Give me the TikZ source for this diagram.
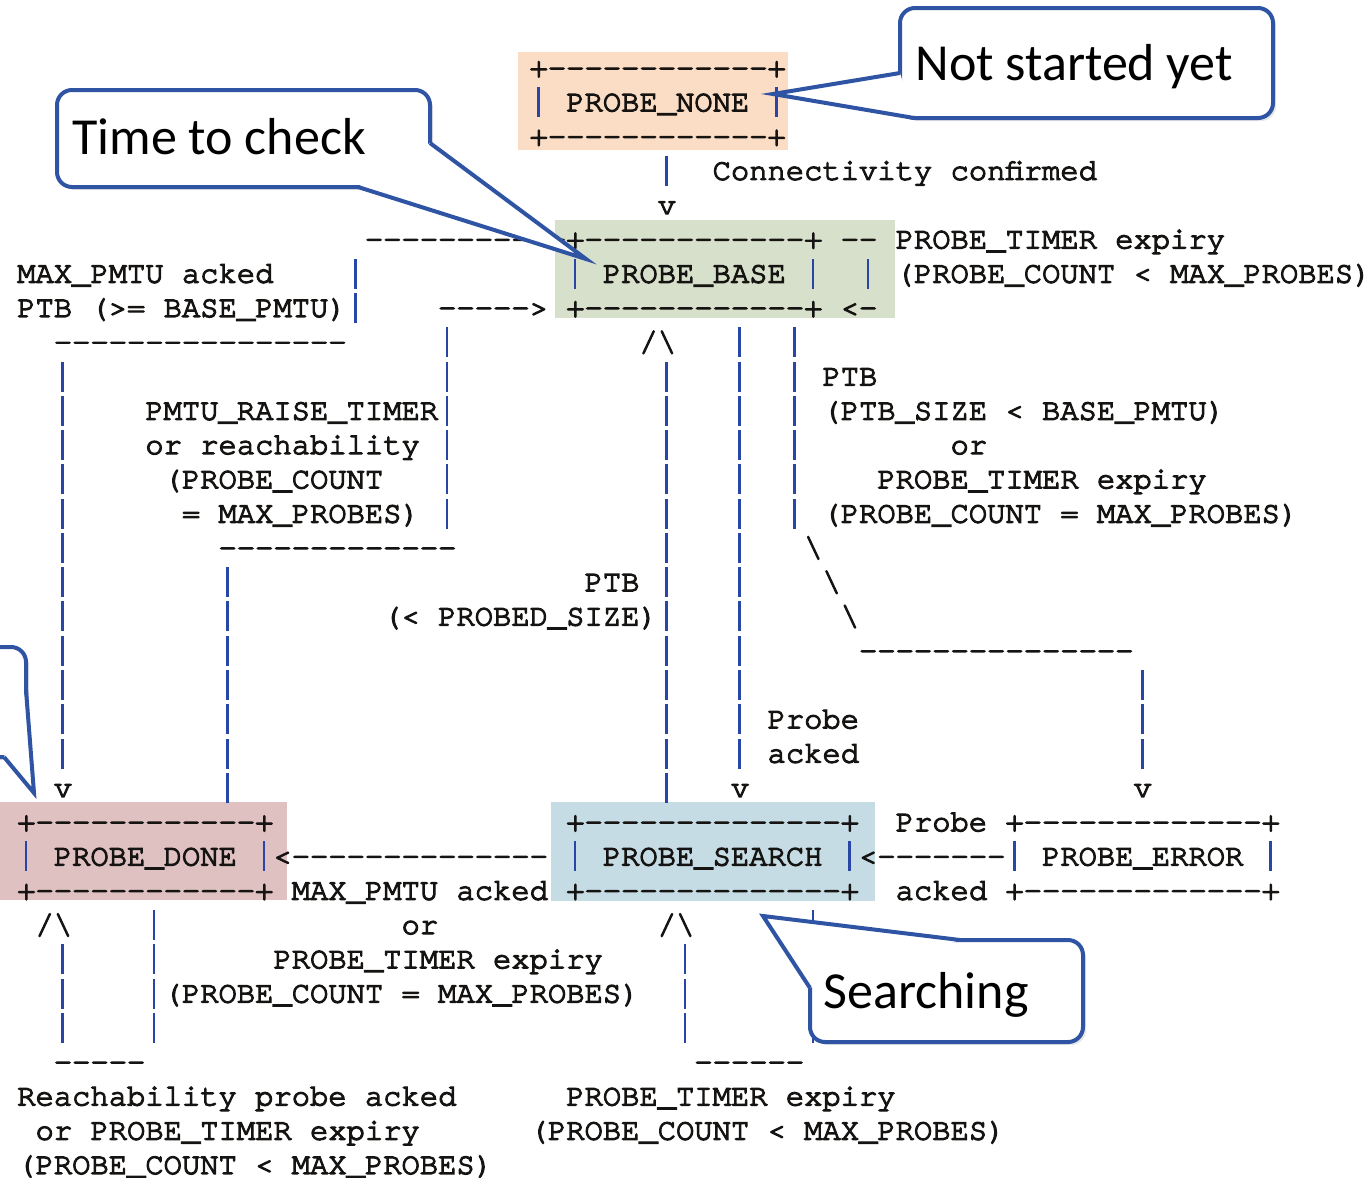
\documentclass[tikz,border=0pt]{standalone}
\usepackage{fontspec}
\usepackage{tikz}
\usetikzlibrary{shadows}

\newfontfamily\asciifont{texgyrecursor-regular.otf}[FakeBold=4]
\newfontfamily\notefont{Carlito}

\definecolor{nonebg}{RGB}{251,221,197}
\definecolor{basebg}{RGB}{215,224,202}
\definecolor{donebg}{RGB}{223,193,193}
\definecolor{searchbg}{RGB}{198,220,228}
\definecolor{pipeblue}{RGB}{40,70,165}
\definecolor{noteblue}{RGB}{47,84,163}
\definecolor{ink}{RGB}{22,20,18}

% one text piece of the ascii chart, left edge at column #2, line #3
\newcommand\asc[4]{\node[asc] (#1) at ({16.85+18.3*#2},{77+34.28*#3}) {#4};}
\newcommand\barat[3]{\node[pipe] (#1) at ({26+18.3*#2},{68+34.28*#3}) {};}

\begin{document}
\begin{tikzpicture}[x=0.5pt, y=-0.5pt,
	asc/.style={anchor=base west, inner sep=0pt, font=\asciifont\fontsize{15.25}{17}\selectfont, text=ink},
	pipe/.style={fill=pipeblue, inner sep=0pt, minimum width=1.3pt, minimum height=15pt},
	callout/.style={draw=noteblue, line width=2pt, fill=white, rounded corners=7.5pt,
		drop shadow={opacity=0.2, shadow xshift=1.5pt, shadow yshift=-1.5pt}},
	wedge/.style={draw=noteblue, line width=2pt, line join=miter},
	note/.style={anchor=base west, inner sep=0pt, font=\notefont\fontsize{26}{30}\selectfont}]
	
	\useasboundingbox (0,0) rectangle (1371,1178);
	\clip (0,0) rectangle (1371,1178);
	
	% coloured states
	\fill[nonebg] (518,52) rectangle (788,150);
	\fill[basebg] (555,220) rectangle (895,318);
	\fill[donebg] (0,802) rectangle (287,900);
	\fill[searchbg] (551,802) rectangle (875,901);
	
	% vertical runs: column/first line/last line
	\foreach \c/\a/\b in {35/3/3, 18/6/7, 46/6/6, 23/8/13, 39/8/20, 42/8/13,
		2/9/20, 35/9/21, 11/15/21, 61/18/20, 7/25/28, 43/25/28, 2/26/28, 36/26/28}
	{
		\foreach \r in {\a,...,\b}
		{\barat{pipe-\c-\r}{\c}{\r}}
	}
	
	\asc{none-top}{28}{0}{+------------+}
	\barat{none-w}{28}{1} \asc{none}{30}{1}{PROBE\_NONE} \barat{none-e}{41}{1}
	\asc{none-bot}{28}{2}{+------------+}
	\asc{conn}{38}{3}{Connectivity confirmed}
	\asc{conn-v}{35}{4}{v}
	
	\asc{base-in}{19}{5}{-----------}
	\asc{base-top}{30}{5}{+------------+}
	\asc{loop-top}{45}{5}{--}
	\asc{loop-lbl1}{48}{5}{PROBE\_TIMER expiry}
	\asc{maxack-lbl1}{0}{6}{MAX\_PMTU acked}
	\barat{base-w}{30}{6} \asc{base}{32}{6}{PROBE\_BASE} \barat{base-e}{43}{6}
	\asc{loop-lbl2}{48}{6}{(PROBE\_COUNT < MAX\_PROBES)}
	\asc{maxack-lbl2}{0}{7}{PTB (>= BASE\_PMTU)}
	\asc{raise-arr}{23}{7}{----->}
	\asc{base-bot}{30}{7}{+------------+}
	\asc{loop-arr}{45}{7}{<-}
	
	\asc{maxack-line}{2}{8}{----------------}
	\asc{ptb-up}{34}{8}{/\textbackslash}
	\asc{err-lbl1}{44}{9}{PTB}
	\asc{raise-lbl1}{7}{10}{PMTU\_RAISE\_TIMER}
	\asc{err-lbl2}{44}{10}{(PTB\_SIZE < BASE\_PMTU)}
	\asc{raise-lbl2}{7}{11}{or reachability}
	\asc{err-lbl3}{51}{11}{or}
	\asc{raise-lbl3}{8}{12}{(PROBE\_COUNT}
	\asc{err-lbl4}{47}{12}{PROBE\_TIMER expiry}
	\asc{raise-lbl4}{9}{13}{= MAX\_PROBES)}
	\asc{err-lbl5}{44}{13}{(PROBE\_COUNT = MAX\_PROBES)}
	\asc{raise-line}{11}{14}{-------------}
	\asc{err-d1}{43}{14}{\textbackslash}
	\asc{ptb-lbl1}{31}{15}{PTB}
	\asc{err-d2}{44}{15}{\textbackslash}
	\asc{ptb-lbl2}{20}{16}{(< PROBED\_SIZE)}
	\asc{err-d3}{45}{16}{\textbackslash}
	\asc{err-line}{46}{17}{---------------}
	\asc{ack-lbl1}{41}{19}{Probe}
	\asc{ack-lbl2}{41}{20}{acked}
	\asc{done-v}{2}{21}{v}
	\asc{search-v}{39}{21}{v}
	\asc{error-v}{61}{21}{v}
	
	\asc{done-top}{0}{22}{+------------+}
	\asc{search-top}{30}{22}{+--------------+}
	\asc{rec-lbl1}{48}{22}{Probe}
	\asc{error-top}{54}{22}{+-------------+}
	\barat{done-w}{0}{23} \asc{done}{2}{23}{PROBE\_DONE} \barat{done-e}{13}{23}
	\asc{fin-arr}{14}{23}{<--------------}
	\barat{search-w}{30}{23} \asc{search}{32}{23}{PROBE\_SEARCH} \barat{search-e}{45}{23}
	\asc{rec-arr}{46}{23}{<-------}
	\barat{error-w}{54}{23} \asc{error}{56}{23}{PROBE\_ERROR} \barat{error-e}{68}{23}
	\asc{done-bot}{0}{24}{+------------+}
	\asc{fin-lbl1}{15}{24}{MAX\_PMTU acked}
	\asc{search-bot}{30}{24}{+--------------+}
	\asc{rec-lbl2}{48}{24}{acked}
	\asc{error-bot}{54}{24}{+-------------+}
	
	\asc{done-up}{1}{25}{/\textbackslash}
	\asc{fin-lbl2}{21}{25}{or}
	\asc{search-up}{35}{25}{/\textbackslash}
	\asc{fin-lbl3}{14}{26}{PROBE\_TIMER expiry}
	\asc{fin-lbl4}{8}{27}{(PROBE\_COUNT = MAX\_PROBES)}
	\asc{done-loop}{2}{29}{-----}
	\asc{search-loop}{37}{29}{------}
	\asc{done-lbl1}{0}{30}{Reachability probe acked}
	\asc{search-lbl1}{30}{30}{PROBE\_TIMER expiry}
	\asc{done-lbl2}{1}{31}{or PROBE\_TIMER expiry}
	\asc{search-lbl2}{28}{31}{(PROBE\_COUNT < MAX\_PROBES)}
	\asc{done-lbl3}{0}{32}{(PROBE\_COUNT < MAX\_PROBES)}
	
	% callouts: body, then the pointer laid over it
	\coordinate (check-tip) at (586,259);
	\draw[callout] (57,90) rectangle (430,187);
	\fill[white] (430,143) -- (check-tip) -- (358,187) -- cycle;
	\draw[wedge] (430,143) -- (check-tip) -- (358,187);
	\node[note] (note-check) at (72,154) {Time to check};
	
	\coordinate (none-tip) at (773,94);
	\draw[callout] (900,8) rectangle (1273,118);
	\fill[white] (900,73) -- (none-tip) -- (914,118) -- cycle;
	\draw[wedge] (900,73) -- (none-tip) -- (914,118);
	\node[note] (note-none) at (915,80) {Not started yet};
	
	\coordinate (search-tip) at (763,916);
	\draw[callout] (810,940) rectangle (1083,1042);
	\fill[white] (960,940) -- (search-tip) -- (810,988) -- cycle;
	\draw[wedge] (960,940) -- (search-tip) -- (810,988);
	\node[note] (note-search) at (823,1008) {Searching};
	
	\coordinate (done-tip) at (34,793);
	\draw[callout] (-60,647) rectangle (26,757);
	\fill[white] (26,690) -- (done-tip) -- (4,757) -- cycle;
	\draw[wedge] (26,690) -- (done-tip) -- (4,757);
	
\end{tikzpicture}
\end{document}
